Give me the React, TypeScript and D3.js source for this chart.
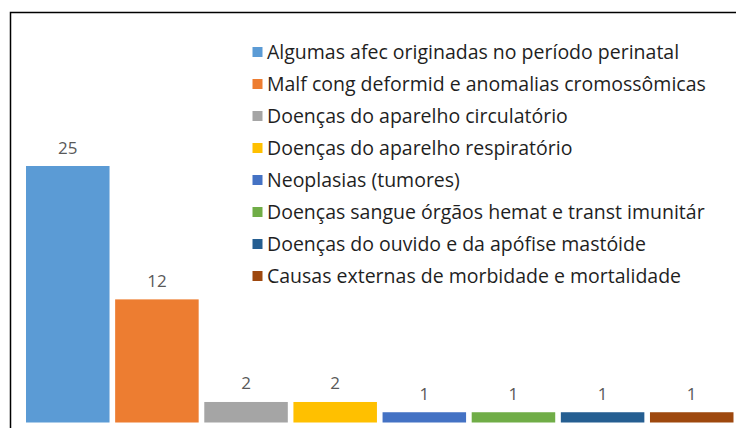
import { useRef, useEffect } from "react";
import * as d3 from "d3";

const WIDTH = 736;
const HEIGHT = 428;

const categories = [
  "Algumas afec originadas no período perinatal",
  "Malf cong deformid e anomalias cromossômicas",
  "Doenças do aparelho circulatório",
  "Doenças do aparelho respiratório",
  "Neoplasias (tumores)",
  "Doenças sangue órgãos hemat e transt imunitár",
  "Doenças do ouvido e da apófise mastóide",
  "Causas externas de morbidade e mortalidade",
];
const values = [25, 12, 2, 2, 1, 1, 1, 1];
const colors = ["#5B9BD5", "#ED7D31", "#A5A5A5", "#FFC000", "#4472C4", "#70AD47", "#255E91", "#9E480E"];

const FONT = "'Open Sans', 'Noto Sans', sans-serif";

export default function App() {
  const svgRef = useRef<SVGSVGElement>(null);

  useEffect(() => {
    const svg = d3.select(svgRef.current);
    svg.selectAll("*").remove();

    // frame (only top and left edges are visible in the crop)
    svg
      .append("rect")
      .attr("x", 10.5)
      .attr("y", 12.5)
      .attr("width", 900)
      .attr("height", 600)
      .attr("fill", "#fff")
      .attr("stroke", "#000")
      .attr("stroke-width", 1.5);

    const x = d3
      .scaleBand<string>()
      .domain(categories)
      .range([23.2, 736.3])
      .paddingInner(0.063)
      .paddingOuter(0.0315);

    const y = d3.scaleLinear().domain([0, 25]).range([422.5, 166]);

    const data = categories.map((c, i) => ({ c, v: values[i], color: colors[i] }));

    svg
      .append("g")
      .selectAll("rect")
      .data(data)
      .enter()
      .append("rect")
      .attr("x", (d) => x(d.c)!)
      .attr("y", (d) => y(d.v))
      .attr("width", x.bandwidth())
      .attr("height", (d) => y(0) - y(d.v))
      .attr("fill", (d) => d.color);

    // data labels
    svg
      .append("g")
      .selectAll("text")
      .data(data)
      .enter()
      .append("text")
      .attr("x", (d) => x(d.c)! + x.bandwidth() / 2)
      .attr("y", (d) => y(d.v) - 12.5)
      .attr("text-anchor", "middle")
      .attr("fill", "#595959")
      .attr("font-size", "17px")
      .attr("font-family", FONT)
      .text((d) => String(d.v));

    // legend
    const legend = svg.append("g").attr("transform", "translate(252.5,52)");
    data.forEach((d, i) => {
      const row = legend.append("g").attr("transform", `translate(0,${i * 32})`);
      row
        .append("rect")
        .attr("x", 0)
        .attr("y", -5)
        .attr("width", 10)
        .attr("height", 10)
        .attr("fill", d.color);
      row
        .append("text")
        .attr("x", 14.5)
        .attr("y", 0)
        .attr("dy", "0.35em")
        .attr("fill", "#1f1f1f")
        .attr("font-size", "19.5px")
        .attr("font-family", FONT)
        .text(d.c);
    });
  }, []);

  return (
    <svg
      ref={svgRef}
      width={WIDTH}
      height={HEIGHT}
      style={{ position: "absolute", left: 0, top: 0, display: "block", background: "#fff" }}
    />
  );
}
